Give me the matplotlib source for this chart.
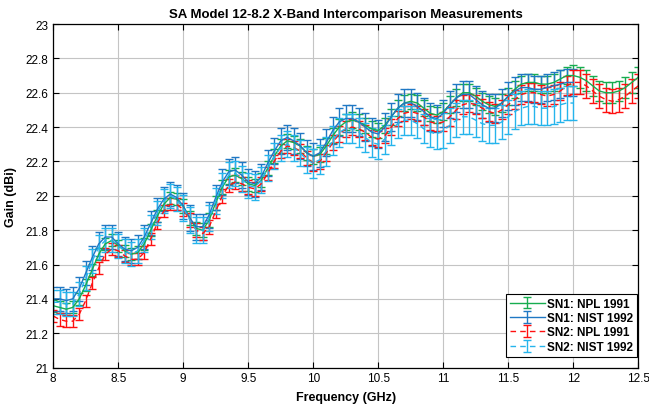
import numpy as np
import matplotlib
matplotlib.use("Agg")
import matplotlib.pyplot as plt

plt.rcParams['font.family'] = ['Liberation Sans', 'DejaVu Sans']

freq_npl = [8.00, 8.05, 8.10, 8.15, 8.20, 8.25, 8.30, 8.35, 8.40, 8.45,
            8.50, 8.55, 8.60, 8.65, 8.70, 8.75, 8.80, 8.85, 8.90, 8.95,
            9.00, 9.05, 9.10, 9.15, 9.20, 9.25, 9.30, 9.35, 9.40, 9.45,
            9.50, 9.55, 9.60, 9.65, 9.70, 9.75, 9.80, 9.85, 9.90, 9.95,
            10.00, 10.05, 10.10, 10.15, 10.20, 10.25, 10.30, 10.35, 10.40, 10.45,
            10.50, 10.55, 10.60, 10.65, 10.70, 10.75, 10.80, 10.85, 10.90, 10.95,
            11.00, 11.05, 11.10, 11.15, 11.20, 11.25, 11.30, 11.35, 11.40, 11.45,
            11.50, 11.55, 11.60, 11.65, 11.70, 11.75, 11.80, 11.85, 11.90, 11.95,
            12.00, 12.05, 12.10, 12.15, 12.20, 12.25, 12.30, 12.35, 12.40, 12.45,
            12.50]
freq_nist = freq_npl[:81]

sn1_npl = [21.36, 21.35, 21.34, 21.35, 21.40, 21.48, 21.57, 21.66, 21.72, 21.74,
           21.71, 21.68, 21.66, 21.67, 21.72, 21.80, 21.88, 21.95, 21.99, 21.98,
           21.94, 21.87, 21.81, 21.80, 21.86, 21.96, 22.05, 22.11, 22.12, 22.10,
           22.07, 22.06, 22.09, 22.16, 22.23, 22.29, 22.32, 22.31, 22.29, 22.25,
           22.23, 22.24, 22.29, 22.35, 22.40, 22.43, 22.44, 22.43, 22.41, 22.39,
           22.38, 22.41, 22.46, 22.51, 22.54, 22.55, 22.54, 22.51, 22.48, 22.47,
           22.49, 22.53, 22.57, 22.60, 22.60, 22.58, 22.55, 22.53, 22.52, 22.54,
           22.58, 22.62, 22.65, 22.66, 22.66, 22.65, 22.65, 22.66, 22.68, 22.70,
           22.70, 22.69, 22.67, 22.64, 22.61, 22.60, 22.60, 22.61, 22.63, 22.66,
           22.69]
sn2_npl = [21.30, 21.28, 21.27, 21.27, 21.31, 21.39, 21.49, 21.58, 21.66, 21.69,
           21.68, 21.65, 21.63, 21.63, 21.67, 21.75, 21.84, 21.91, 21.95, 21.95,
           21.92, 21.86, 21.80, 21.78, 21.82, 21.91, 22.00, 22.06, 22.08, 22.07,
           22.05, 22.04, 22.07, 22.13, 22.20, 22.26, 22.29, 22.28, 22.26, 22.22,
           22.19, 22.20, 22.25, 22.31, 22.36, 22.39, 22.40, 22.39, 22.37, 22.34,
           22.33, 22.35, 22.40, 22.45, 22.48, 22.49, 22.48, 22.46, 22.43, 22.42,
           22.43, 22.46, 22.50, 22.53, 22.54, 22.53, 22.51, 22.49, 22.48, 22.50,
           22.53, 22.56, 22.59, 22.60, 22.60, 22.59, 22.58, 22.59, 22.61, 22.64,
           22.66, 22.66, 22.64, 22.61, 22.58, 22.56, 22.55, 22.56, 22.58, 22.61,
           22.64]
sn1_nist = [21.40, 21.40, 21.39, 21.40, 21.46, 21.55, 21.64, 21.72, 21.76, 21.76,
            21.72, 21.69, 21.68, 21.70, 21.76, 21.84, 21.92, 21.98, 22.01, 21.99,
            21.94, 21.87, 21.82, 21.82, 21.89, 21.99, 22.08, 22.14, 22.15, 22.12,
            22.08, 22.07, 22.11, 22.19, 22.26, 22.32, 22.34, 22.32, 22.29, 22.25,
            22.23, 22.25, 22.31, 22.38, 22.43, 22.45, 22.45, 22.43, 22.40, 22.37,
            22.36, 22.40, 22.46, 22.51, 22.54, 22.54, 22.52, 22.49, 22.46, 22.45,
            22.48, 22.53, 22.57, 22.59, 22.59, 22.56, 22.53, 22.51, 22.51, 22.54,
            22.58, 22.61, 22.63, 22.63, 22.62, 22.62, 22.63, 22.64, 22.65, 22.66,
            22.66]
sn2_nist = [21.38, 21.38, 21.37, 21.37, 21.43, 21.52, 21.62, 21.70, 21.74, 21.74,
            21.71, 21.68, 21.66, 21.68, 21.74, 21.82, 21.90, 21.97, 22.00, 21.98,
            21.93, 21.86, 21.80, 21.80, 21.87, 21.97, 22.06, 22.12, 22.13, 22.10,
            22.06, 22.05, 22.09, 22.16, 22.23, 22.28, 22.30, 22.28, 22.25, 22.21,
            22.19, 22.21, 22.26, 22.32, 22.37, 22.39, 22.39, 22.37, 22.34, 22.31,
            22.30, 22.33, 22.38, 22.42, 22.44, 22.44, 22.42, 22.39, 22.37, 22.36,
            22.38, 22.41, 22.44, 22.46, 22.46, 22.44, 22.42, 22.41, 22.41, 22.43,
            22.46, 22.49, 22.51, 22.52, 22.52, 22.51, 22.51, 22.52, 22.53, 22.54,
            22.54]

err_sn1_npl = ([0.035] * 20 + [0.04] * 20 + [0.045] * 20 + [0.05] * 20 + [0.06] * 11)
err_sn2_npl = ([0.035] * 20 + [0.04] * 20 + [0.045] * 20 + [0.055] * 20 + [0.07] * 11)
err_sn1_nist = ([0.07] * 20 + [0.075] * 20 + [0.08] * 20 + [0.08] * 21)
err_sn2_nist = ([0.07] * 20 + [0.075] * 20 + [0.085] * 20 + [0.10] * 21)

labels = ['SN1: NPL 1991', 'SN1: NIST 1992', 'SN2: NPL 1991', 'SN2: NIST 1992']
colors = ['#16ad4f', '#1f78c4', '#ff1010', '#25b4ec']

fig = plt.figure(figsize=(6.49, 4.10), dpi=100)
ax = fig.add_axes([0.082, 0.101, 0.9015, 0.838])

series = [(freq_npl, sn1_npl, err_sn1_npl, '-'),
          (freq_nist, sn1_nist, err_sn1_nist, '-'),
          (freq_npl, sn2_npl, err_sn2_npl, (0, (4, 3))),
          (freq_nist, sn2_nist, err_sn2_nist, (0, (4, 3)))]
for (x, y, e, ls), lab, c in zip(series, labels, colors):
    ax.errorbar(x, y, yerr=e, color=c, linestyle=ls, linewidth=1.0,
                elinewidth=1.0, capsize=2.8, capthick=1.0, label=lab)

ax.set_xlim(8, 12.5)
ax.set_ylim(21, 23)
ax.set_xticks([8, 8.5, 9, 9.5, 10, 10.5, 11, 11.5, 12, 12.5])
ax.set_xticklabels(['8', '8.5', '9', '9.5', '10', '10.5', '11', '11.5', '12', '12.5'])
ax.set_yticks([21, 21.2, 21.4, 21.6, 21.8, 22, 22.2, 22.4, 22.6, 22.8, 23])
ax.set_yticklabels(['21', '21.2', '21.4', '21.6', '21.8', '22', '22.2', '22.4', '22.6', '22.8', '23'])
ax.grid(True, color='#c4c4c4', linewidth=0.8)
ax.set_axisbelow(True)
ax.tick_params(direction='in', top=True, right=True, labelsize=8.5, length=4, width=0.8)
for s in ax.spines.values():
    s.set_linewidth(0.9)
ax.set_xlabel('Frequency (GHz)', fontsize=9, fontweight='bold', labelpad=5)
ax.set_ylabel('Gain (dBi)', fontsize=9, fontweight='bold', labelpad=6)
ax.set_title('SA Model 12-8.2 X-Band Intercomparison Measurements', fontsize=9.5,
             fontweight='bold', pad=5)

leg = ax.legend(loc='lower right', bbox_to_anchor=(0.998, 0.031),
                prop={'weight': 'bold', 'size': 8.5},
                frameon=True, fancybox=False, edgecolor='black', framealpha=1,
                handlelength=3.0, borderpad=0.35, labelspacing=0.2, handletextpad=0.15,
                borderaxespad=0.0)
leg.get_frame().set_linewidth(0.8)

fig.savefig('out.png', dpi=100)
